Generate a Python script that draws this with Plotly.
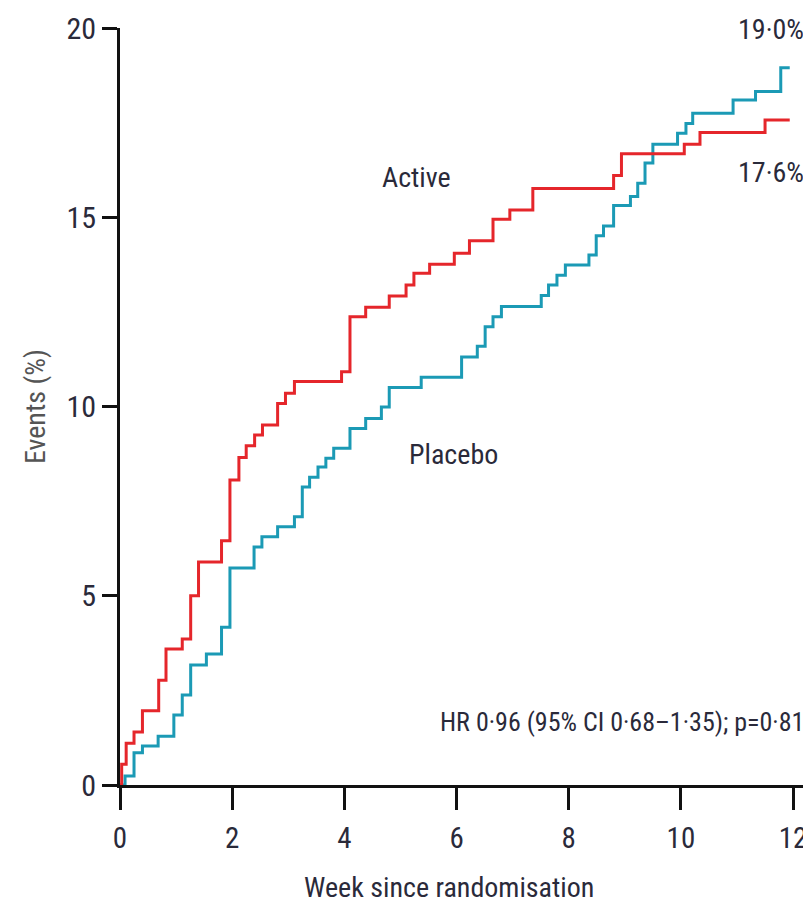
import plotly.graph_objects as go

# Active arm (red) step curve: week, cumulative events (%)
active_weeks = [0, 0.03, 0.11, 0.25, 0.40, 0.69, 0.82, 1.11, 1.26, 1.40,
                1.81, 1.96, 2.12, 2.25, 2.40, 2.54, 2.81, 2.95, 3.11, 3.95,
                4.10, 4.38, 4.80, 5.10, 5.24, 5.52, 5.96, 6.23, 6.65, 6.95,
                7.36, 8.80, 8.94, 10.06, 10.34, 11.50, 11.94]
active_events = [0, 0.55, 1.1, 1.4, 1.96, 2.77, 3.59, 3.86, 5.0, 5.89,
                 6.45, 8.06, 8.65, 8.96, 9.25, 9.51, 10.08, 10.35, 10.66, 10.92,
                 12.37, 12.62, 12.92, 13.21, 13.52, 13.76, 14.05, 14.38, 14.95, 15.19,
                 15.76, 16.10, 16.68, 16.93, 17.24, 17.57, 17.57]

# Placebo arm (teal) step curve
placebo_weeks = [0, 0.09, 0.25, 0.40, 0.68, 0.96, 1.11, 1.26, 1.54, 1.81,
                 1.96, 2.39, 2.53, 2.81, 3.11, 3.25, 3.38, 3.53, 3.67, 3.81,
                 4.10, 4.38, 4.66, 4.80, 5.37, 6.09, 6.37, 6.51, 6.65, 6.80,
                 7.51, 7.64, 7.79, 7.94, 8.36, 8.49, 8.62, 8.80, 9.10, 9.23,
                 9.36, 9.50, 9.94, 10.09, 10.21, 10.93, 11.33, 11.78, 11.94]
placebo_events = [0, 0.24, 0.85, 1.03, 1.29, 1.85, 2.38, 3.17, 3.46, 4.17,
                  5.73, 6.29, 6.56, 6.82, 7.09, 7.87, 8.13, 8.40, 8.63, 8.90,
                  9.42, 9.68, 9.99, 10.50, 10.77, 11.31, 11.59, 12.11, 12.37, 12.64,
                  12.93, 13.21, 13.47, 13.74, 14.00, 14.51, 14.77, 15.31, 15.55, 15.90,
                  16.43, 16.93, 17.22, 17.48, 17.75, 18.10, 18.32, 18.95, 18.95]

x_ticks = [0, 2, 4, 6, 8, 10, 12]
y_ticks = [0, 5, 10, 15, 20]

series_labels = ["Active", "Placebo"]
final_labels = ["17·6%", "19·0%"]
stats_text = "HR 0·96 (95% CI 0·68–1·35); p=0·81"
x_title = "Week since randomisation"
y_title = "Events (%)"

FONT = "Liberation Sans Narrow, Roboto Condensed, Arial Narrow, Roboto, sans-serif"
RED = "#e5262b"
TEAL = "#1b9ab5"
TXT = "#2a2a3a"

fig = go.Figure()
fig.add_trace(go.Scatter(x=placebo_weeks, y=placebo_events, mode="lines",
                         line=dict(color=TEAL, width=3, shape="hv"),
                         cliponaxis=False, showlegend=False))
fig.add_trace(go.Scatter(x=active_weeks, y=active_events, mode="lines",
                         line=dict(color=RED, width=3, shape="hv"),
                         cliponaxis=False, showlegend=False))

ann_font = dict(family=FONT, size=28, color=TXT)
fig.add_annotation(x=4.64, y=16.04, text=series_labels[0], showarrow=False,
                   xanchor="left", yanchor="middle", font=ann_font)
fig.add_annotation(x=5.12, y=8.72, text=series_labels[1], showarrow=False,
                   xanchor="left", yanchor="middle", font=ann_font)
fig.add_annotation(xref="paper", yref="paper", x=1.0, y=0.8085,
                   text=final_labels[0], showarrow=False,
                   xanchor="right", yanchor="middle", font=ann_font)
fig.add_annotation(xref="paper", yref="paper", x=1.0, y=0.9974,
                   text=final_labels[1], showarrow=False,
                   xanchor="right", yanchor="middle", font=ann_font)
fig.add_annotation(xref="paper", yref="paper", x=1.0, y=0.0832,
                   text=stats_text, showarrow=False,
                   xanchor="right", yanchor="middle",
                   font=dict(family=FONT, size=26, color=TXT))
fig.add_annotation(xref="paper", yref="paper", x=0.48, y=-0.136, text=x_title,
                   showarrow=False, xanchor="center", yanchor="middle",
                   font=dict(family=FONT, size=28, color=TXT))
fig.add_annotation(xref="paper", yref="paper", x=-0.123, y=0.5, text=y_title,
                   showarrow=False, textangle=-90, xanchor="center", yanchor="middle",
                   font=dict(family=FONT, size=28, color="#555555"))

fig.update_layout(
    width=803, height=895,
    margin=dict(l=112, r=5, t=20, b=118, autoexpand=False),
    paper_bgcolor="white", plot_bgcolor="white",
    font=dict(family=FONT, size=30, color=TXT),
    xaxis=dict(range=[0, 12.23], tickvals=x_ticks, ticks="outside", ticklen=22,
               tickwidth=3, tickcolor="#111", showline=True, linecolor="#111",
               linewidth=3, showgrid=False, zeroline=False, automargin=False,
               ticklabelstandoff=3,
               tickfont=dict(family=FONT, size=29, color=TXT)),
    yaxis=dict(range=[0, 20], tickvals=y_ticks, ticks="outside", ticklen=15,
               tickwidth=3, tickcolor="#111", showline=True, linecolor="#111",
               linewidth=3, showgrid=False, zeroline=False, automargin=False,
               tickfont=dict(family=FONT, size=30, color=TXT)),
)

fig.write_html("out.html")
